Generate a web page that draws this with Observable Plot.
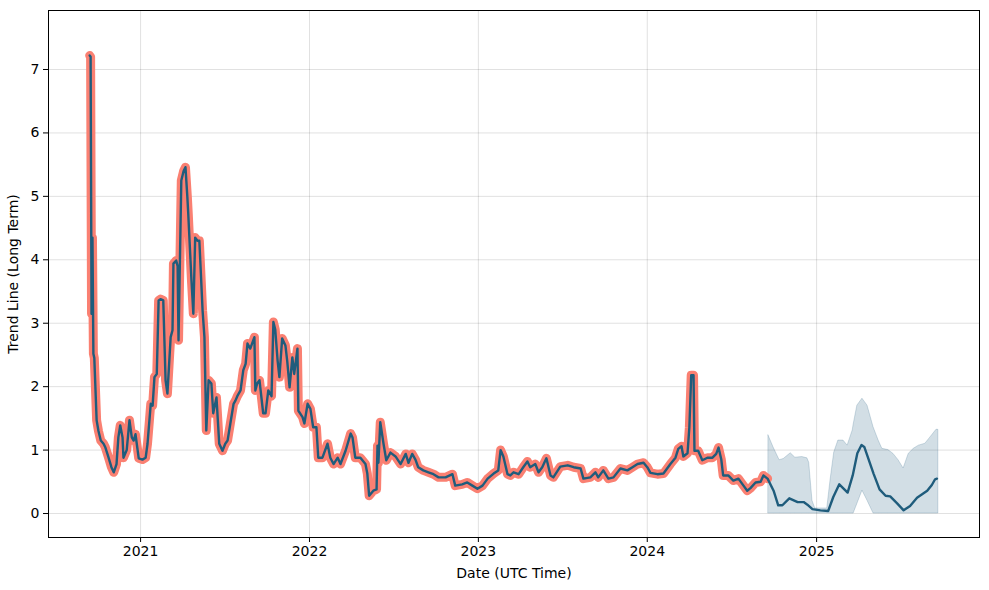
<!DOCTYPE html>
<html>
<head>
<meta charset="utf-8">
<script src="https://cdn.jsdelivr.net/npm/d3@7"></script>
<script src="https://cdn.jsdelivr.net/npm/@observablehq/plot@0.6"></script>
<style>
  html, body { margin: 0; padding: 0; background: #fff; }
  #chart { width: 989px; height: 590px; }
</style>
</head>
<body>
<div id="chart"></div>
<script>
// Historical trend values (date, value)
const histDates = [
  "2020-09-13","2020-09-15","2020-09-17","2020-09-19","2020-09-21","2020-09-23","2020-09-28","2020-10-02","2020-10-07","2020-10-13",
  "2020-10-17","2020-10-23","2020-10-30","2020-11-04","2020-11-10","2020-11-14","2020-11-18","2020-11-23","2020-11-25","2020-12-02",
  "2020-12-08","2020-12-13","2020-12-17","2020-12-21","2020-12-28","2021-01-05","2021-01-12","2021-01-16","2021-01-23","2021-01-27",
  "2021-01-31","2021-02-05","2021-02-09","2021-02-13","2021-02-19","2021-02-24","2021-02-28","2021-03-07","2021-03-11","2021-03-13",
  "2021-03-19","2021-03-22","2021-03-24","2021-03-30","2021-04-04","2021-04-08","2021-04-12","2021-04-14","2021-04-21","2021-04-25",
  "2021-04-29","2021-05-04","2021-05-08","2021-05-15","2021-05-19","2021-05-23","2021-05-28","2021-06-03","2021-06-07","2021-06-14",
  "2021-06-20","2021-06-27","2021-07-03","2021-07-08","2021-07-14","2021-07-21","2021-07-25","2021-07-29","2021-08-05","2021-08-11",
  "2021-08-16","2021-08-20","2021-08-26","2021-09-04","2021-09-06","2021-09-10","2021-09-15","2021-09-23","2021-09-28","2021-10-04",
  "2021-10-11","2021-10-15","2021-10-19","2021-10-24","2021-10-28","2021-11-03","2021-11-10","2021-11-14","2021-11-19","2021-11-25",
  "2021-11-29","2021-12-06","2021-12-08","2021-12-17","2021-12-21","2021-12-28","2022-01-03","2022-01-09","2022-01-16","2022-01-20",
  "2022-01-29","2022-02-09","2022-02-15","2022-02-22","2022-03-03","2022-03-09","2022-03-20","2022-03-31","2022-04-04","2022-04-10",
  "2022-04-21","2022-05-02","2022-05-06","2022-05-10","2022-05-19","2022-05-26","2022-05-28","2022-05-30","2022-06-03","2022-06-10",
  "2022-06-16","2022-06-25","2022-07-06","2022-07-17","2022-07-28","2022-08-03","2022-08-11","2022-08-18","2022-08-24","2022-09-04",
  "2022-09-15","2022-09-26","2022-10-07","2022-10-22","2022-11-06","2022-11-12","2022-11-27","2022-12-08","2022-12-19","2022-12-30",
  "2023-01-10","2023-01-21","2023-02-03","2023-02-13","2023-02-18","2023-02-24","2023-03-05","2023-03-11","2023-03-18","2023-03-29",
  "2023-04-08","2023-04-17","2023-04-23","2023-05-04","2023-05-11","2023-05-19","2023-05-28","2023-06-06","2023-06-12","2023-06-27",
  "2023-07-13","2023-07-26","2023-08-10","2023-08-16","2023-08-31","2023-09-11","2023-09-17","2023-09-28","2023-10-09","2023-10-20",
  "2023-11-04","2023-11-19","2023-11-30","2023-12-11","2023-12-24","2024-01-01","2024-01-08","2024-01-23","2024-02-05","2024-02-20",
  "2024-03-02","2024-03-08","2024-03-15","2024-03-19","2024-03-28","2024-04-01","2024-04-05","2024-04-10","2024-04-12","2024-04-20",
  "2024-04-29","2024-05-10","2024-05-21","2024-05-29","2024-06-03","2024-06-09","2024-06-13","2024-06-24","2024-07-05","2024-07-16",
  "2024-07-27","2024-08-04","2024-08-11","2024-08-22","2024-09-02","2024-09-08","2024-09-17"
];
const histValues = [
  7.22,7.2,3.15,4.35,2.52,2.45,1.47,1.3,1.15,1.1,
  1.04,0.9,0.73,0.65,0.78,1.2,1.39,1.2,0.88,1.0,
  1.47,1.2,1.15,1.25,0.87,0.85,0.88,1.1,1.73,1.7,
  2.15,2.2,3.36,3.38,3.36,2.1,1.89,2.78,2.89,3.94,
  3.99,3.9,2.73,5.25,5.4,5.46,5.0,4.73,3.67,3.15,
  4.35,4.3,4.3,3.2,2.78,1.31,2.1,2.05,1.58,1.83,
  1.1,0.99,1.1,1.15,1.42,1.73,1.78,1.85,1.94,2.26,
  2.36,2.68,2.6,2.78,1.94,2.05,2.1,1.58,1.58,1.94,
  1.85,3.02,2.9,2.42,2.15,2.76,2.65,2.4,1.99,2.46,
  2.2,2.6,1.62,1.52,1.42,1.73,1.65,1.36,1.36,0.88,
  0.88,1.1,0.88,0.78,0.88,0.78,0.99,1.26,1.2,0.88,
  0.88,0.78,0.63,0.28,0.36,0.38,1.07,0.8,1.44,1.1,
  0.84,0.96,0.9,0.78,0.94,0.8,0.94,0.85,0.73,0.68,
  0.65,0.62,0.57,0.57,0.62,0.44,0.46,0.49,0.44,0.39,
  0.44,0.55,0.63,0.68,1.0,0.9,0.62,0.6,0.65,0.62,
  0.73,0.82,0.73,0.78,0.65,0.73,0.87,0.6,0.57,0.74,
  0.76,0.73,0.71,0.55,0.57,0.65,0.57,0.68,0.55,0.57,
  0.71,0.68,0.73,0.78,0.8,0.73,0.64,0.62,0.63,0.78,
  0.88,1.02,1.06,0.9,0.95,1.36,2.18,2.18,0.99,0.99,
  0.84,0.88,0.88,0.94,1.04,0.85,0.6,0.6,0.52,0.55,
  0.44,0.36,0.4,0.49,0.5,0.6,0.55
];

// Forecast trend line
const fcDates = [
  "2024-09-17","2024-09-30","2024-10-10","2024-10-19","2024-11-03","2024-11-21","2024-12-04","2024-12-12","2024-12-23","2025-01-09",
  "2025-01-26","2025-02-06","2025-02-19","2025-03-09","2025-03-20","2025-03-30","2025-04-08","2025-04-14","2025-05-04","2025-05-17",
  "2025-05-30","2025-06-09","2025-06-24","2025-07-08","2025-07-22","2025-08-06","2025-08-28","2025-09-07","2025-09-14","2025-09-18"
];
const fcValues = [
  0.55,0.36,0.13,0.13,0.24,0.18,0.18,0.14,0.07,0.05,
  0.04,0.26,0.46,0.33,0.6,0.95,1.08,1.05,0.63,0.38,
  0.28,0.27,0.16,0.05,0.12,0.25,0.36,0.45,0.54,0.55
];

// Forecast uncertainty band
const bandDates = [
  "2024-09-19","2024-09-30","2024-10-13","2024-10-22","2024-11-06","2024-11-16","2024-12-01","2024-12-12","2024-12-16","2024-12-23",
  "2024-12-29","2025-01-24","2025-01-31","2025-02-08","2025-02-17","2025-02-28","2025-03-09","2025-03-20","2025-03-22","2025-03-30",
  "2025-04-10","2025-04-21","2025-05-04","2025-05-15","2025-05-23","2025-06-05","2025-06-16","2025-06-27","2025-07-08","2025-07-19",
  "2025-07-30","2025-08-10","2025-08-24","2025-09-04","2025-09-17","2025-09-21"
];
const bandLow = [
  0,0,0,0,0,0,0,0,0,0,
  0,0,0,0,0,0,0,0,0,0.15,
  0.36,0.2,0,0,0,0,0,0,0,0,
  0,0,0,0,0,0
];
const bandHigh = [
  1.23,1.04,0.84,0.86,0.95,0.88,0.89,0.87,0.8,0.2,
  0.08,0.08,0.52,0.96,1.15,1.15,1.07,1.31,1.4,1.7,
  1.81,1.7,1.36,1.15,1.02,1.0,0.94,0.84,0.71,0.94,
  1.02,1.07,1.1,1.2,1.32,1.32
];

const yearTicks = ["2021-01-01","2022-01-01","2023-01-01","2024-01-01","2025-01-01"];
const yTicks = [0, 1, 2, 3, 4, 5, 6, 7];

const parse = d3.utcParse("%Y-%m-%d");
const hist = histDates.map((d, i) => ({date: parse(d), value: histValues[i]}));
const fc = fcDates.map((d, i) => ({date: parse(d), value: fcValues[i]}));
const band = bandDates.map((d, i) => ({date: parse(d), lo: bandLow[i], hi: bandHigh[i]}));
const trend = hist.concat(fc.slice(1));
const yearDates = yearTicks.map(parse);

const blue = "#1f5c7c";
const salmon = "#fa8072";

const chart = Plot.plot({
  width: 989,
  height: 590,
  marginLeft: 48,
  marginRight: 10,
  marginTop: 10,
  marginBottom: 53,
  style: {fontFamily: "DejaVu Sans", fontSize: "14px", color: "#000", background: "#fff"},
  x: {type: "utc", domain: [parse("2020-06-16"), parse("2025-12-19")]},
  y: {domain: [-0.378, 7.93]},
  marks: [
    Plot.gridX(yearDates, {stroke: "#000", strokeOpacity: 0.12}),
    Plot.gridY(yTicks, {stroke: "#000", strokeOpacity: 0.12}),
    Plot.areaY(band, {x: "date", y1: "lo", y2: "hi", fill: blue, fillOpacity: 0.2, stroke: blue, strokeOpacity: 0.2, curve: "linear"}),
    Plot.line(hist, {x: "date", y: "value", stroke: salmon, strokeWidth: 9, strokeLinejoin: "round", strokeLinecap: "round"}),
    Plot.line(trend, {x: "date", y: "value", stroke: blue, strokeWidth: 2.4, strokeLinejoin: "round"}),
    Plot.frame({stroke: "#000", strokeWidth: 1}),
    Plot.axisX(yearDates, {tickFormat: d3.utcFormat("%Y"), tickSize: 5, tickPadding: 4, label: "Date (UTC Time)", labelAnchor: "center", labelArrow: "none", labelOffset: 40}),
    Plot.axisY(yTicks, {tickFormat: d3.format("d"), tickSize: 5, tickPadding: 4, label: "Trend Line (Long Term)", labelAnchor: "center", labelArrow: "none", labelOffset: 40})
  ]
});
document.getElementById("chart").appendChild(chart);
</script>
</body>
</html>
